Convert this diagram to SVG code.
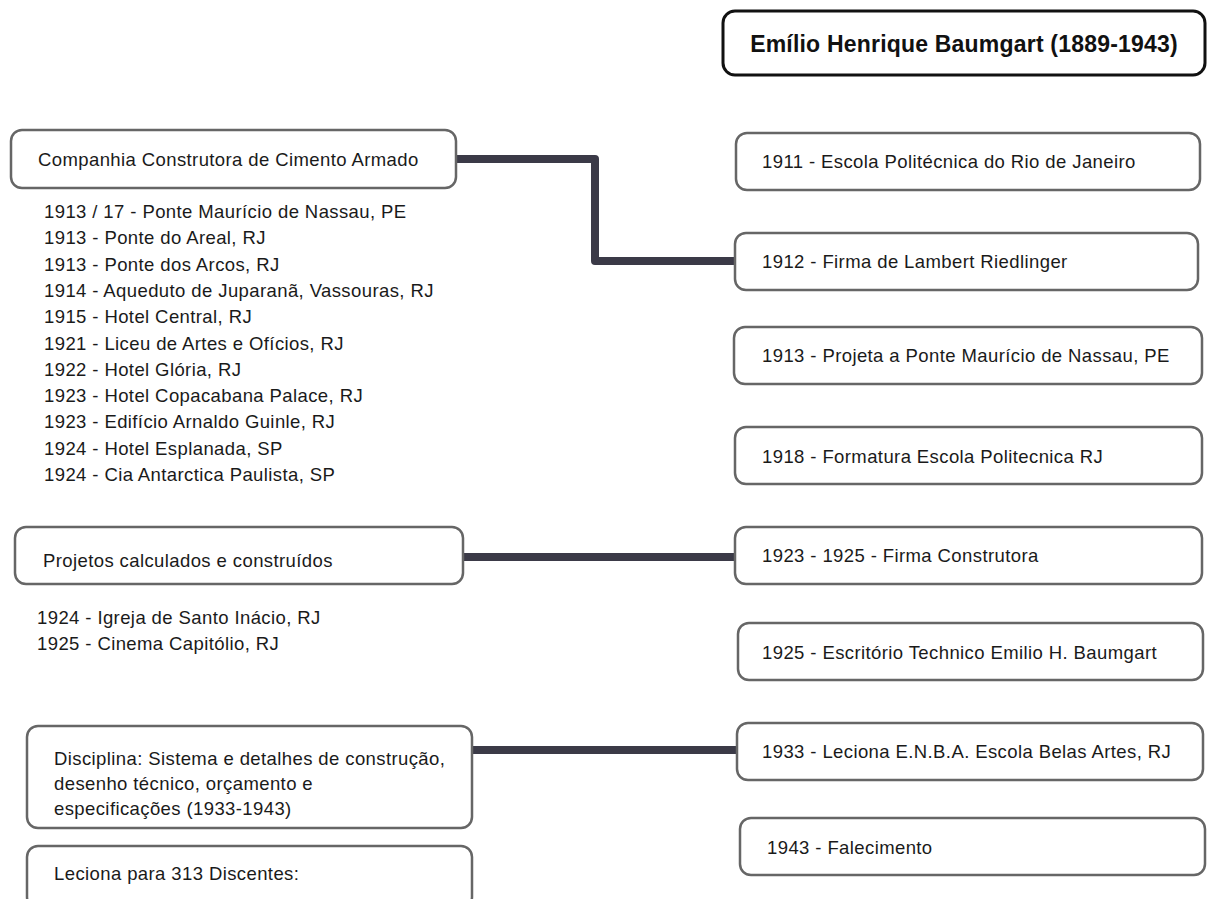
<svg xmlns="http://www.w3.org/2000/svg" width="1207" height="899" viewBox="0 0 1207 899">
  <style>
    .box { fill: #ffffff; stroke: #666666; stroke-width: 2.5; }
    .title-box { fill: #ffffff; stroke: #111111; stroke-width: 3; }
    .txt { font-family: "Liberation Sans", Arial, sans-serif; font-size: 18.5px; letter-spacing: 0.4px; fill: #1a1a1a; }
    .title { font-family: "Liberation Sans", Arial, sans-serif; font-size: 23px; letter-spacing: 0.2px; font-weight: bold; fill: #111111; }
    .link { fill: none; stroke: #3b3a47; stroke-width: 8; stroke-linejoin: round; }
  </style>
  <rect width="1207" height="899" fill="#ffffff"/>

  <!-- connectors -->
  <g id="connectors">
    <path class="link" d="M456 159 H595 V261 H735"/>
    <path class="link" d="M463 557 H735"/>
    <path class="link" d="M472 750 H737"/>
  </g>

  <!-- title -->
  <g id="title">
    <rect class="title-box" x="723" y="11" width="482" height="64" rx="12"/>
    <text class="title" x="964" y="52" text-anchor="middle">Emílio Henrique Baumgart (1889-1943)</text>
  </g>

  <!-- left column -->
  <g id="companhia">
    <rect class="box" x="11" y="130" width="445" height="58" rx="11"/>
    <text class="txt" x="38" y="165.5">Companhia Construtora de Cimento Armado</text>
  </g>
  <g id="obras-companhia">
    <text class="txt" x="44" y="218">1913 / 17 - Ponte Maurício de Nassau, PE</text>
    <text class="txt" x="44" y="244.3">1913 - Ponte do Areal, RJ</text>
    <text class="txt" x="44" y="270.6">1913 - Ponte dos Arcos, RJ</text>
    <text class="txt" x="44" y="296.9">1914 - Aqueduto de Juparanã, Vassouras, RJ</text>
    <text class="txt" x="44" y="323.2">1915 - Hotel Central, RJ</text>
    <text class="txt" x="44" y="349.5">1921 - Liceu de Artes e Ofícios, RJ</text>
    <text class="txt" x="44" y="375.8">1922 - Hotel Glória, RJ</text>
    <text class="txt" x="44" y="402.1">1923 - Hotel Copacabana Palace, RJ</text>
    <text class="txt" x="44" y="428.4">1923 - Edifício Arnaldo Guinle, RJ</text>
    <text class="txt" x="44" y="454.7">1924 - Hotel Esplanada, SP</text>
    <text class="txt" x="44" y="481">1924 - Cia Antarctica Paulista, SP</text>
  </g>
  <g id="projetos">
    <rect class="box" x="15" y="527" width="448" height="57" rx="11"/>
    <text class="txt" x="43" y="566.5">Projetos calculados e construídos</text>
  </g>
  <g id="obras-projetos">
    <text class="txt" x="37" y="623.5">1924 - Igreja de Santo Inácio, RJ</text>
    <text class="txt" x="37" y="649.8">1925 - Cinema Capitólio, RJ</text>
  </g>
  <g id="disciplina">
    <rect class="box" x="27" y="726" width="445" height="102" rx="11"/>
    <text class="txt" x="54" y="764.5">Disciplina: Sistema e detalhes de construção,</text>
    <text class="txt" x="54" y="789.5">desenho técnico, orçamento e</text>
    <text class="txt" x="54" y="814.5">especificações (1933-1943)</text>
  </g>
  <g id="discentes">
    <rect class="box" x="27" y="846" width="445" height="62" rx="11"/>
    <text class="txt" x="54" y="879.5">Leciona para 313 Discentes:</text>
  </g>

  <!-- right column -->
  <g id="e1911">
    <rect class="box" x="736" y="133" width="464" height="57" rx="11"/>
    <text class="txt" x="762" y="167.5">1911 - Escola Politécnica do Rio de Janeiro</text>
  </g>
  <g id="e1912">
    <rect class="box" x="735" y="233" width="463" height="57" rx="11"/>
    <text class="txt" x="762" y="268">1912 - Firma de Lambert Riedlinger</text>
  </g>
  <g id="e1913">
    <rect class="box" x="734" y="327" width="468" height="57" rx="11"/>
    <text class="txt" x="762" y="361.5">1913 - Projeta a Ponte Maurício de Nassau, PE</text>
  </g>
  <g id="e1918">
    <rect class="box" x="735" y="427" width="467" height="57" rx="11"/>
    <text class="txt" x="762" y="462.5">1918 - Formatura Escola Politecnica RJ</text>
  </g>
  <g id="e1923">
    <rect class="box" x="735" y="527" width="467" height="57" rx="11"/>
    <text class="txt" x="762" y="561.5">1923 - 1925 - Firma Construtora</text>
  </g>
  <g id="e1925">
    <rect class="box" x="738" y="623" width="465" height="57" rx="11"/>
    <text class="txt" x="762" y="658.5">1925 - Escritório Technico Emilio H. Baumgart</text>
  </g>
  <g id="e1933">
    <rect class="box" x="737" y="723" width="466" height="57" rx="11"/>
    <text class="txt" x="762" y="757.5">1933 - Leciona E.N.B.A. Escola Belas Artes, RJ</text>
  </g>
  <g id="e1943">
    <rect class="box" x="740" y="818" width="465" height="57" rx="11"/>
    <text class="txt" x="767" y="853.5">1943 - Falecimento</text>
  </g>
</svg>
